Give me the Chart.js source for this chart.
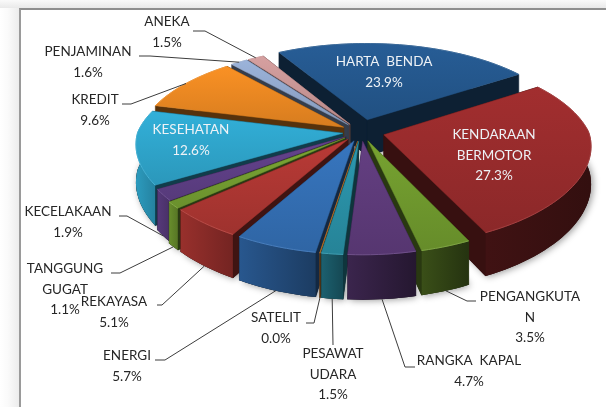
<!DOCTYPE html>
<html><head><meta charset="utf-8">
<script src="https://cdn.jsdelivr.net/npm/chart.js@4"></script>
<style>
html,body{margin:0;padding:0;background:#fff;overflow:hidden}
#wrap{position:relative;width:606px;height:407px;overflow:hidden;background:linear-gradient(90deg,#fff 0,#fafafa 8px,#ececec 19px)}
#top{position:absolute;left:0;top:0;width:606px;height:8px;background:linear-gradient(180deg,#fafafa,#e9e9e9)}
#panel{position:absolute;left:19px;top:8px;width:587px;height:399px;box-sizing:border-box;background:#fff;border-left:2px solid #9a9a9a;border-top:2px solid #8f8f8f}
canvas{position:absolute;left:0;top:0}
</style></head>
<body><div id="wrap"><div id="top"></div><div id="panel"></div><canvas id="c" width="606" height="407"></canvas></div>
<script>
const categories=['HARTA  BENDA','KENDARAAN BERMOTOR','PENGANGKUTAN','RANGKA  KAPAL','PESAWAT UDARA','SATELIT','ENERGI','REKAYASA','TANGGUNG GUGAT','KECELAKAAN','KESEHATAN','KREDIT','PENJAMINAN','ANEKA'];
const shares=[23.9,27.3,3.5,4.7,1.5,0.04,5.7,5.1,1.1,1.9,12.6,9.6,1.6,1.5];
const sliceColors=['#25598f','#9a2c2d','#719b2f','#5f3c7c','#2a92a8','#c47a30','#3470b6','#b03733','#76a032','#604088','#30a8cf','#ee8a22','#94aad0','#cc9898'];
const explode=[0.14,0.115,0.1,0.1,0.1,0.1,0.1,0.1,0.1,0.09,0.09,0.1,0.1,0.1];
const labelLines=[['HARTA  BENDA'],['KENDARAAN','BERMOTOR'],['PENGANGKUTA','N'],['RANGKA  KAPAL'],['PESAWAT','UDARA'],['SATELIT'],['ENERGI'],['REKAYASA'],['TANGGUNG','GUGAT'],['KECELAKAAN'],['KESEHATAN'],['KREDIT'],['PENJAMINAN'],['ANEKA']];
const labelPlace=[[384,62],[494,135],[530,297],[469,361],[333,354],[276,318],[127,356],[114,302],[65,269],[68,212],[191,130],[95,100],[88,52],[167,22]];
const leaderElbow=[null,null,[[476,301],[467,301]],[[415,367],[405,367]],[[333,345]],[[306,323],[314,323]],[[155,360],[165,360]],[[157,305],[162,305]],[[111,273],[120,273]],[[119,216],[127,216]],null,[[122,104],[131,104]],[[139,56],[150,56]],[[193,31],[205,31]]];
const lightLabels=[true,true,false,false,false,false,false,false,false,false,true,false,false,false];
const view={cx:361,cy:132,sx:205,sy:92,pxFront:0.11,pxBack:0.17,py:0.16,depth:37};

function project(nx,ny,down){
  const sX=1/(1-(ny>0?view.pxFront:view.pxBack)*ny), sY=1/(1-view.py*ny);
  return [view.cx+view.sx*nx*sX, view.cy+view.sy*ny*sY+(down?view.depth*sY:0)];
}
function hex(c){return [1,3,5].map(i=>parseInt(c.substr(i,2),16));}
function shade(c,f){const v=hex(c).map(x=>Math.round(Math.min(255,x*f)));return `rgb(${v[0]},${v[1]},${v[2]})`;}
function tint(c,t){const v=hex(c).map(x=>Math.round(x+(255-x)*t));return `rgb(${v[0]},${v[1]},${v[2]})`;}
function poly(ctx,pts){ctx.beginPath();pts.forEach((q,i)=>i?ctx.lineTo(q[0],q[1]):ctx.moveTo(q[0],q[1]));ctx.closePath();}
function clampF(f){return Math.max(0.33,Math.min(0.92,f));}

const pie3d={
  id:'pie3d',
  beforeDatasetsDraw(chart){
    const ctx=chart.ctx, meta=chart.getDatasetMeta(0);
    const items=meta.data.map((el,i)=>{
      const a0=el.startAngle,a1=el.endAngle,mid=(a0+a1)/2,e=explode[i];
      const ox=Math.cos(mid)*e, oy=Math.sin(mid)*e;
      const n=Math.max(2,Math.ceil((a1-a0)/(Math.PI/90)));
      const rim=[];
      for(let k=0;k<=n;k++){const a=a0+(a1-a0)*k/n;rim.push([Math.cos(a)+ox,Math.sin(a)+oy,a]);}
      return {i,mid,ox,oy,rim,key:Math.sin(mid)*0.6+oy};
    });
    chart.$geo=[];
    items.forEach(it=>{chart.$geo[it.i]=it;});
    const ordered=items.slice().sort((A,B)=>A.key-B.key);
    ordered.forEach(it=>{
      const botRim=it.rim.map(q=>project(q[0],q[1],true));
      ctx.save();
      ctx.shadowColor='rgba(0,0,0,0.4)';ctx.shadowBlur=7;ctx.shadowOffsetX=2;ctx.shadowOffsetY=1;
      poly(ctx,[project(it.ox,it.oy,true)].concat(botRim));ctx.fillStyle='#666';ctx.fill();
      ctx.restore();
    });
    ordered.forEach(it=>{
      const c=sliceColors[it.i], topRim=it.rim.map(q=>project(q[0],q[1],false)), botRim=it.rim.map(q=>project(q[0],q[1],true));
      const apexT=project(it.ox,it.oy,false), apexB=project(it.ox,it.oy,true);
      const wall=shade(c,0.36);
      ctx.lineWidth=0.6;
      poly(ctx,[apexB].concat(botRim));ctx.fillStyle=shade(c,0.3);ctx.fill();
      [[apexT,topRim[0],botRim[0],apexB],[apexT,topRim[topRim.length-1],botRim[botRim.length-1],apexB]].forEach(q=>{
        poly(ctx,q);ctx.fillStyle=wall;ctx.strokeStyle=wall;ctx.fill();ctx.stroke();
      });
      const vis=[];
      it.rim.forEach((q,k)=>{if(Math.sin(q[2])>-0.1)vis.push(k);});
      if(vis.length>1){
        const a=vis.map(k=>topRim[k]), b=vis.map(k=>botRim[k]).reverse();
        const xs=a.map(q=>q[0]), xMin=Math.min(...xs), xMax=Math.max(...xs);
        const nMin=(xMin-view.cx)/view.sx, nMax=(xMax-view.cx)/view.sx;
        const g=ctx.createLinearGradient(xMin,0,xMax+0.01,0);
        g.addColorStop(0,shade(c,clampF(0.6-0.3*nMin)));
        g.addColorStop(1,shade(c,clampF(0.47-0.3*nMax)));
        poly(ctx,a.concat(b));ctx.fillStyle=g;ctx.fill();
      }
      const ys=topRim.map(q=>q[1]).concat(apexT[1]);
      const g2=ctx.createLinearGradient(0,Math.min(...ys),0,Math.max(...ys)+1);
      g2.addColorStop(0,shade(c,1.05));g2.addColorStop(1,shade(c,0.9));
      poly(ctx,[apexT].concat(topRim));ctx.fillStyle=g2;ctx.fill();ctx.strokeStyle=shade(c,0.92);ctx.lineWidth=0.5;ctx.stroke();
      ctx.beginPath();topRim.forEach((q,k)=>k?ctx.lineTo(q[0],q[1]):ctx.moveTo(q[0],q[1]));
      ctx.strokeStyle=tint(c,0.1);ctx.lineWidth=1;ctx.stroke();
    });
    return false;
  },
  afterDraw(chart){
    const ctx=chart.ctx, geo=chart.$geo;
    ctx.save();
    ctx.strokeStyle='#3c3c3c';ctx.lineWidth=1;
    leaderElbow.forEach((pts,i)=>{
      if(!pts)return;
      const it=geo[i], mid=it.mid;
      const end=project(Math.cos(mid)+it.ox,Math.sin(mid)+it.oy,Math.sin(mid)>0.2);
      ctx.beginPath();ctx.moveTo(pts[0][0],pts[0][1]);
      pts.slice(1).forEach(q=>ctx.lineTo(q[0],q[1]));
      ctx.lineTo(end[0],end[1]);ctx.stroke();
    });
    ctx.font='13.5px Lato, "Open Sans", sans-serif';
    ctx.textAlign='center';ctx.textBaseline='middle';
    labelLines.forEach((lines,i)=>{
      const [x,y]=labelPlace[i];
      ctx.fillStyle=lightLabels[i]?'#eef2f6':'#262626';
      lines.concat(shares[i].toFixed(1)+'%').forEach((t,k)=>ctx.fillText(t,x,y+k*20.3));
    });
    ctx.restore();
  }
};

new Chart(document.getElementById('c'),{
  type:'pie',
  data:{labels:categories,datasets:[{data:shares,backgroundColor:sliceColors,borderWidth:0}]},
  options:{responsive:false,animation:false,rotation:-30,events:[],plugins:{legend:{display:false},tooltip:{enabled:false}}},
  plugins:[pie3d]
});
</script></body></html>
